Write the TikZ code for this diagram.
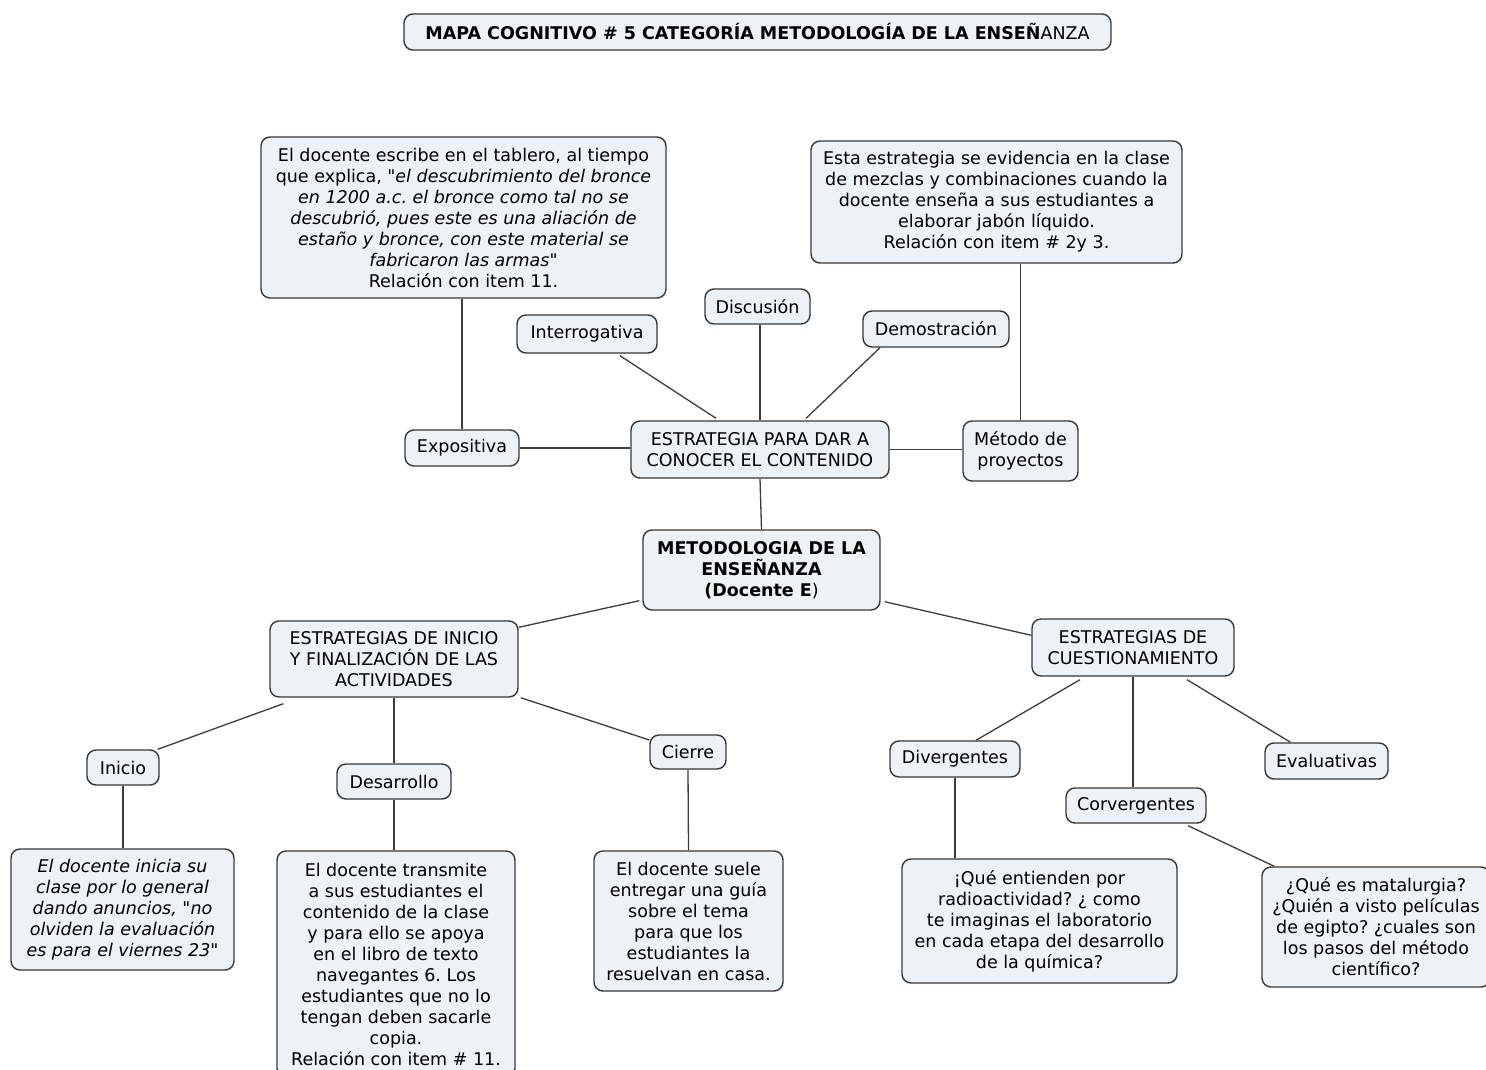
\documentclass[tikz,border=0pt]{standalone}
\usepackage{fontspec}
\setmainfont{DejaVu Sans}[Ligatures=TeXOff]
\usetikzlibrary{calc}
\frenchspacing
\definecolor{boxc}{RGB}{236,242,245}
\definecolor{bordc}{RGB}{55,55,55}
\definecolor{linec}{RGB}{60,60,60}
\newcommand\mainsz{\fontsize{17.5}{21}\selectfont}
\tikzset{
  box/.style={draw=bordc, fill=boxc, rounded corners=9pt, line width=1.4pt,
    align=center, inner sep=0pt, font=\mainsz},
  link/.style={draw=linec, line width=1.3pt},
}
\begin{document}
\begin{tikzpicture}[x=1pt,y=-1pt]
\useasboundingbox (0,0) rectangle (1486,1070);

% title
\node[box, minimum width=707, minimum height=36] (title) at (757.5,32)
  {\textbf{MAPA COGNITIVO \# 5 CATEGORÍA METODOLOGÍA DE LA ENSEÑ}ANZA};

% upper branch
\node[box, minimum width=405, minimum height=161] (tl) at (463.5,217.5)
  {El docente escribe en el tablero, al tiempo\\
   que explica, \textit{"el descubrimiento del bronce}\\
   \textit{en 1200 a.c. el bronce como tal no se}\\
   \textit{descubrió, pues este es una aliación de}\\
   \textit{estaño y bronce, con este material se}\\
   \textit{fabricaron las armas"}\\
   Relación con item 11.};
\node[box, minimum width=371, minimum height=122] (tr) at (996.5,202)
  {Esta estrategia se evidencia en la clase\\
   de mezclas y combinaciones cuando la\\
   docente enseña a sus estudiantes a\\
   elaborar jabón líquido.\\
   Relación con item \# 2y 3.};
\node[box, minimum width=105, minimum height=35] (disc) at (757.5,306.5) {Discusión};
\node[box, minimum width=140, minimum height=38] (inter) at (587,334) {Interrogativa};
\node[box, minimum width=146, minimum height=36] (demo) at (936,329) {Demostración};
\node[box, minimum width=114, minimum height=36] (expo) at (462,448) {Expositiva};
\node[box, minimum width=258, minimum height=57] (est) at (760,449.5)
  {ESTRATEGIA PARA DAR A\\ CONOCER EL CONTENIDO};
\node[box, minimum width=115, minimum height=60] (met) at (1020.5,451)
  {Método de\\ proyectos};

% root
\node[box, minimum width=237, minimum height=80] (meto) at (761.5,570)
  {\textbf{METODOLOGIA DE LA}\\ \textbf{ENSEÑANZA}\\ \textbf{(Docente E})};

% lower branches
\node[box, minimum width=248, minimum height=76] (ini) at (394,659)
  {ESTRATEGIAS DE INICIO\\ Y FINALIZACIÓN DE LAS\\ ACTIVIDADES};
\node[box, minimum width=202, minimum height=57] (cue) at (1133,647.5)
  {ESTRATEGIAS DE\\ CUESTIONAMIENTO};

\node[box, minimum width=72, minimum height=35] (inicio) at (123,767.5) {Inicio};
\node[box, minimum width=114, minimum height=35] (desa) at (394,781.5) {Desarrollo};
\node[box, minimum width=76, minimum height=34] (cierre) at (688,752) {Cierre};
\node[box, minimum width=130, minimum height=36] (diver) at (955,759) {Divergentes};
\node[box, minimum width=140, minimum height=35] (corv) at (1136,805.5) {Corvergentes};
\node[box, minimum width=123, minimum height=36] (eval) at (1326.5,761) {Evaluativas};

\node[box, minimum width=223, minimum height=121] (tinicio) at (122.5,909.5)
  {\textit{El docente inicia su}\\
   \textit{clase por lo general}\\
   \textit{dando anuncios, "no}\\
   \textit{olviden la evaluación}\\
   \textit{es para el viernes 23"}};
\node[box, minimum width=238, minimum height=226] (tdesa) at (396,964)
  {El docente transmite\\
   a sus estudiantes el\\
   contenido de la clase\\
   y para ello se apoya\\
   en el libro de texto\\
   navegantes 6. Los\\
   estudiantes que no lo\\
   tengan deben sacarle\\
   copia.\\
   Relación con item \# 11.};
\node[box, minimum width=189, minimum height=140] (tcierre) at (688.5,921)
  {El docente suele\\
   entregar una guía\\
   sobre el tema\\
   para que los\\
   estudiantes la\\
   resuelvan en casa.};
\node[box, minimum width=275, minimum height=124] (tdiver) at (1039.5,921)
  {¡Qué entienden por\\
   radioactividad? ¿ como\\
   te imaginas el laboratorio\\
   en cada etapa del desarrollo\\
   de la química?};
\node[box, minimum width=228, minimum height=120] (tcorv) at (1376,927)
  {¿Qué es matalurgia?\\
   ¿Quién a visto películas\\
   de egipto? ¿cuales son\\
   los pasos del método\\
   científico?};

% connectors, upper part
\draw[link] (tl.south -| expo.north) -- (expo.north);
\draw[link] (tr.south -| met.north) -- (met.north);
\draw[link] ($(inter.south)+(33,2)$) -- ($(est.north)+(-44,-2)$);
\draw[link] (est.north |- disc.south) -- (est.north);
\draw[link] ($(demo.south)+(-56,0)$) -- ($(est.north)+(46,-2)$);
\draw[link] (expo.east) -- (expo.east -| est.west);
\draw[link] (est.east) -- (est.east -| met.west);
\draw[link] (est.south) -- (meto.north);

% connectors, lower part
\draw[link] ($(meto.south west)+(-3,-10)$) -- ($(ini.north east)+(0,7)$);
\draw[link] ($(meto.south east)+(4,-9)$) -- ($(cue.north west)+(0,17)$);
\draw[link] ($(ini.south west)+(14,6)$) -- ($(inicio.north east)+(-2,0)$);
\draw[link] (ini.south) -- (desa.north);
\draw[link] ($(ini.south east)+(2,0)$) -- ($(cierre.west)+(0,-12)$);
\draw[link] ($(cue.south)+(-53,3)$) -- ($(diver.north)+(21,0)$);
\draw[link] (cue.south) -- (cue.south |- corv.north);
\draw[link] ($(cue.south)+(54,3)$) -- ($(eval.north)+(-36,0)$);
\draw[link] (inicio.south) -- (inicio.south |- tinicio.north);
\draw[link] (desa.south) -- (desa.south |- tdesa.north);
\draw[link] (cierre.south) -- (tcierre.north);
\draw[link] (diver.south) -- (diver.south |- tdiver.north);
\draw[link] ($(corv.south)+(52,2)$) -- ($(tcorv.north west)+(13,0)$);
\end{tikzpicture}
\end{document}
